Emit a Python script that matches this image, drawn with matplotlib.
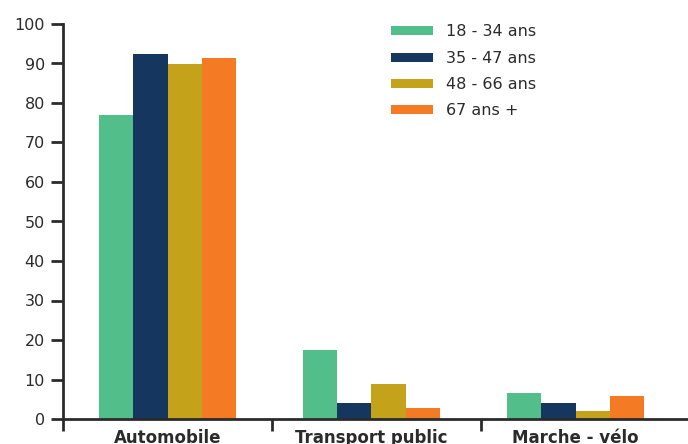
import matplotlib.pyplot as plt
import matplotlib
import numpy as np
from matplotlib.patches import Patch

matplotlib.rcParams['font.family'] = ['DejaVu Sans']

categories = ["Automobile", "Transport public", "Marche - vélo"]
groups = ["18 - 34 ans", "35 - 47 ans", "48 - 66 ans", "67 ans +"]
values = {
    "18 - 34 ans": [77.0, 17.5, 6.6],
    "35 - 47 ans": [92.4, 4.1, 4.1],
    "48 - 66 ans": [89.9, 8.9, 2.0],
    "67 ans +":    [91.4, 2.8, 5.8],
}
COLORS = ["#52be8a", "#14365f", "#c4a21a", "#f47a24"]
TEXT = "#2b2b2b"

# groups sit a little tighter than the category boundaries
step = 204 / 209
x = np.arange(len(categories)) * step
width = 0.163

fig = plt.figure(figsize=(6.88, 4.44), dpi=100)
ax = fig.add_axes([63 / 688, 25 / 444, 1 - 63 / 688, 395 / 444])

for i, (g, c) in enumerate(zip(groups, COLORS)):
    ax.bar(x + (i - 1.5) * width, values[g], width, color=c, linewidth=0)

ax.set_xlim(-0.5, (688 - 63) / 209 - 0.5)
ax.set_ylim(0, 100)
ax.set_yticks(range(0, 101, 10))
ax.tick_params(axis="y", length=9, width=2, color=TEXT, labelsize=11.5,
               labelcolor=TEXT, pad=4)

# category names under the groups, ticks on the group boundaries
ax.set_xticks(x)
ax.set_xticklabels(categories, fontsize=12, fontweight="bold", color=TEXT)
ax.tick_params(axis="x", length=0, pad=7)
ax.set_xticks(np.arange(-0.5, 2.5, 1.0), minor=True)
ax.tick_params(axis="x", which="minor", length=8.5, width=2, color=TEXT)

for s in ["top", "right"]:
    ax.spines[s].set_visible(False)
for s in ["left", "bottom"]:
    ax.spines[s].set_linewidth(2)
    ax.spines[s].set_color(TEXT)
    ax.spines[s].set_zorder(5)

handles = [Patch(facecolor=c, edgecolor="none") for c in COLORS]
leg = ax.legend(handles, groups, loc="upper left", bbox_to_anchor=(322 / 625, 1.015),
                frameon=False, fontsize=11.5, handlelength=2.6, handleheight=0.5,
                labelspacing=0.71, handletextpad=0.85, borderaxespad=0)
for t in leg.get_texts():
    t.set_color(TEXT)

fig.savefig("out.png", dpi=100)
